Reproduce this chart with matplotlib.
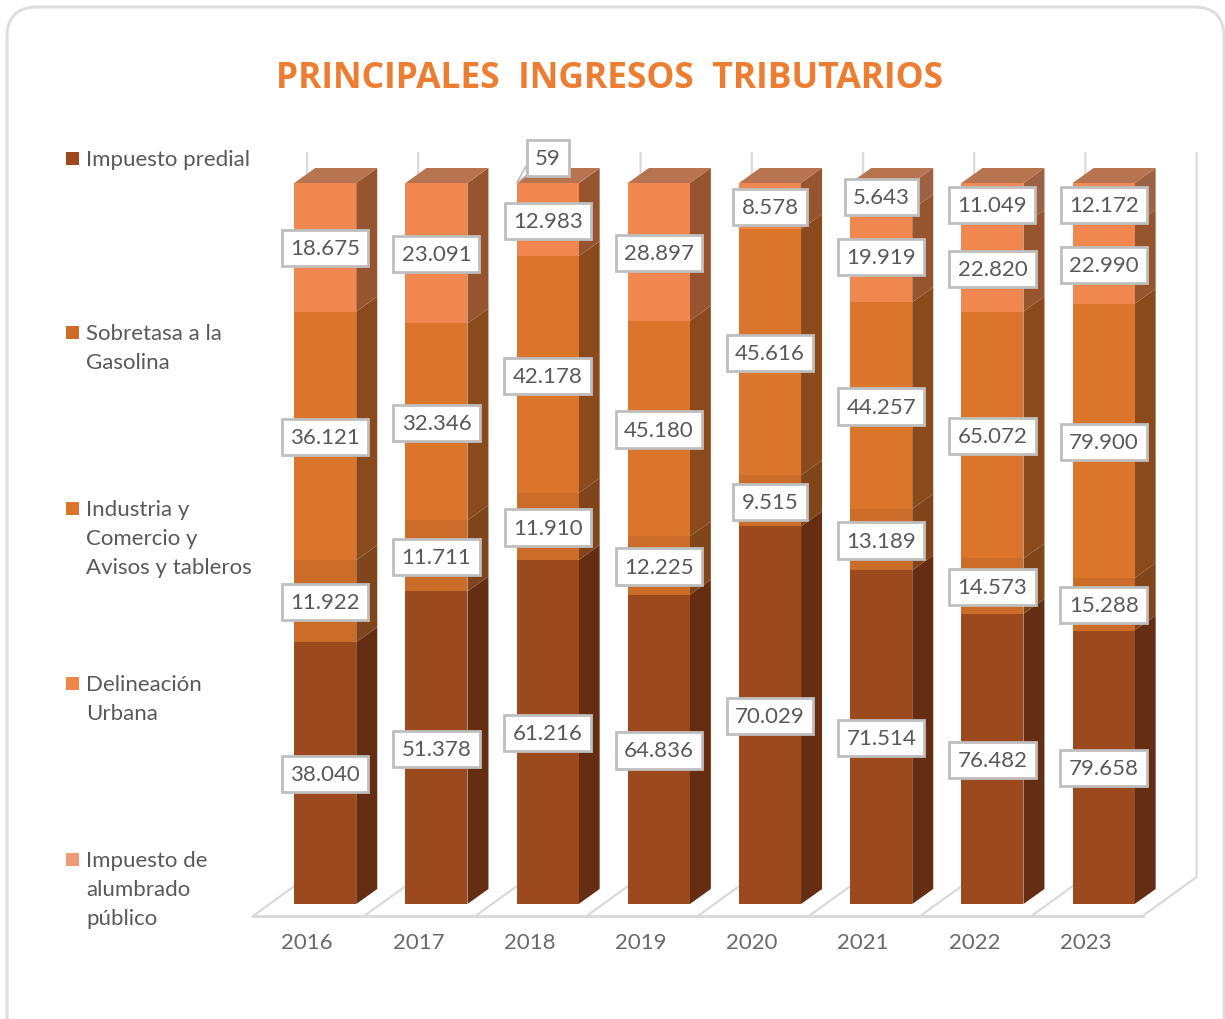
import numpy as np
import matplotlib
matplotlib.use('Agg')
import matplotlib.pyplot as plt
from matplotlib.patches import FancyBboxPatch, Polygon, Rectangle
from matplotlib.transforms import Affine2D

years = ['2016', '2017', '2018', '2019', '2020', '2021', '2022', '2023']
predial = [38040, 51378, 61216, 64836, 70029, 71514, 76482, 79658]
sobretasa = [11922, 11711, 11910, 12225, 9515, 13189, 14573, 15288]
industria = [36121, 32346, 42178, 45180, 45616, 44257, 65072, 79900]
delineacion = [18675, 23091, 12983, 28897, 8578, 19919, 22820, 22990]
alumbrado = [0, 0, 59, 0, 0, 5643, 11049, 12172]

series = [predial, sobretasa, industria, delineacion, alumbrado]
names = ['Impuesto predial', 'Sobretasa a la\nGasolina', 'Industria y\nComercio y\nAvisos y tableros',
         'Delineación\nUrbana', 'Impuesto de\nalumbrado\npúblico']
front = ['#9C4A1D', '#CC6C29', '#DC752C', '#F0874F', '#F1895A']
side = ['#652D11', '#80451A', '#8A4A1C', '#96552F', '#9C6244']
top_col = '#B8734F'
legend_col = ['#9C4A1D', '#CC6C29', '#DC752C', '#EE8549', '#EF9B78']
legend_y = [159, 333, 509, 684, 860]

W, H = 1225, 1020
plt.rcParams['font.family'] = ['Lato', 'DejaVu Sans']
fig = plt.figure(figsize=(W / 100, H / 100), dpi=100)
ax = fig.add_axes([0, 0, 1, 1])

# one category = 111.2 px, one percent = 7.21 px
sx, sy = 111.2, 7.21
x0, y0 = 325.25, 905
ax.set_xlim(-x0 / sx, (W - x0) / sx)
ax.set_ylim((y0 - H) / sy, y0 / sy)
ax.axis('off')

fx = lambda x: x / W
fy = lambda y: 1 - y / H

# card
card = FancyBboxPatch((37, 38), 1157, 987, boxstyle='round,pad=30,rounding_size=30', fc='white', ec='#DEDEDE', lw=2.2,
                      transform=Affine2D().scale(1, -1).translate(0, H), zorder=-5)
fig.patches.append(card)

w = 62 / sx
dx, dy = 21 / sx, 15 / sy
fl_dx, fl_dy = 54 / sx, 39 / sy
floor = -12 / sy
wall_top = (y0 - 154) / sy
n = len(years)
grid = '#DADADA'

# floor and wall lines
for i in range(n + 1):
    xf = i - 72.25 / sx
    ax.plot([xf, xf + fl_dx, xf + fl_dx], [floor, floor + fl_dy, wall_top], color=grid, lw=1.6, zorder=1)
ax.plot([-72.25 / sx, n - 72.25 / sx], [floor, floor], color=grid, lw=2.2, zorder=1)

data = np.array(series, dtype=float)
totals = data.sum(axis=0)
pct = data / totals * 100

for i in range(n):
    left = i - w / 2
    bottom = 0
    for s in range(len(series)):
        h = pct[s, i]
        if h == 0:
            continue
        ax.add_patch(Polygon([(left + w, bottom), (left + w + dx, bottom + dy), (left + w + dx, bottom + h + dy),
                              (left + w, bottom + h)], fc=side[s], ec='none', zorder=2))
        ax.add_patch(Rectangle((left, bottom), w, h, fc=front[s], ec='none', zorder=3))
        bottom += h
    ax.add_patch(Polygon([(left, 100), (left + dx, 100 + dy), (left + w + dx, 100 + dy), (left + w, 100)],
                         fc=top_col, ec='none', zorder=3))
    ax.text(i - 18 / sx, -38.5 / sy, years[i], ha='center', va='center', fontsize=16, color='#696969')

box = dict(boxstyle='square,pad=0.37', fc='white', ec='#BFBFBF', lw=2)
for i in range(n):
    bottom = 0
    for s in range(len(series)):
        v, h = series[s][i], pct[s, i]
        if v == 0:
            continue
        lab = f'{v:,}'.replace(',', '.')
        if v < 100:
            # small value sits above the bar with a leader back to the corner
            ax.add_patch(Polygon([(i - w / 2, 100), (i - 21 / sx, 100 + 18 / sy), (i - 21 / sx, 100 + 8 / sy)],
                                 fc='white', ec='#BFBFBF', lw=1.2, zorder=4))
            ax.text(i, 100 + 25 / sy, lab, ha='center', va='center', fontsize=16, color='#595959', bbox=box, zorder=5)
        else:
            ax.text(i, bottom + h / 2 - 1 / sy, lab, ha='center', va='center', fontsize=16, color='#595959', bbox=box, zorder=5)
        bottom += h

for name, c, yy in zip(names, legend_col, legend_y):
    fig.patches.append(Rectangle((fx(66), fy(yy + 6.5)), 13 / W, 13 / H, fc=c, ec='none', transform=fig.transFigure))
    fig.text(fx(86), fy(yy - 9), name, ha='left', va='top', fontsize=16, color='#595959', linespacing=1.56)

fig.text(fx(609), fy(79), 'PRINCIPALES  INGRESOS  TRIBUTARIOS', ha='center', va='center', fontsize=25.5, fontweight='bold', color='#ED7D31', family='Open Sans')

fig.savefig('out.png', dpi=100, facecolor='white')
